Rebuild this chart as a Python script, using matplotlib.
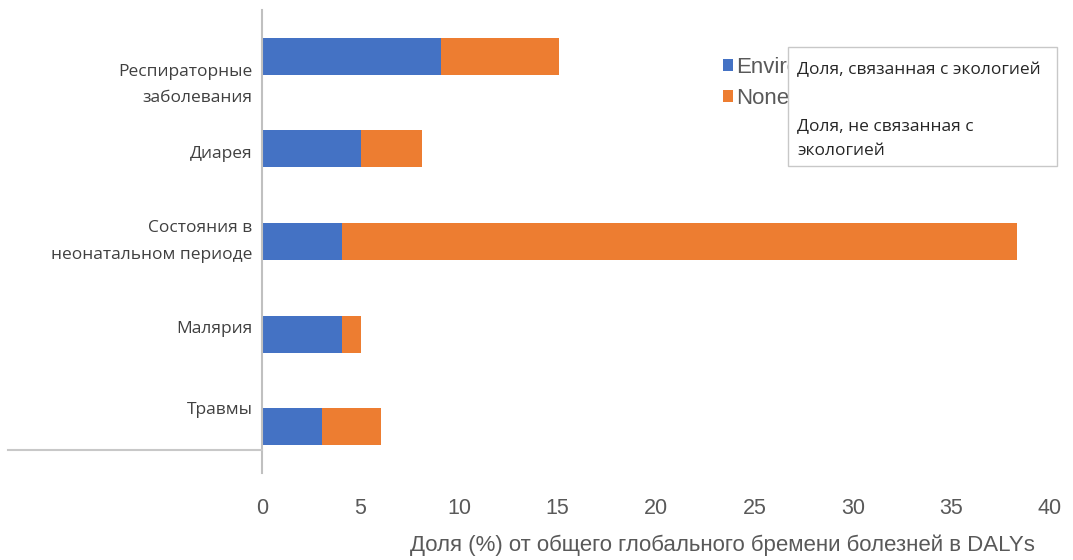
import matplotlib.pyplot as plt
from matplotlib.patches import Rectangle
from matplotlib.lines import Line2D
import matplotlib.transforms as mtransforms

categories = ["Респираторные\nзаболевания", "Диарея", "Состояния в\nнеонатальном периоде", "Малярия", "Травмы"]
environmental = [9.1, 5.0, 4.05, 4.05, 3.05]
nonenvironmental = [6.0, 3.1, 34.25, 1.0, 3.0]
label_shift = [0.31, 0.05, 0.0, -0.05, -0.18]
xticks = [0, 5, 10, 15, 20, 25, 30, 35, 40]

blue = "#4472C4"
orange = "#ED7D31"
grey = "#595959"
narrow = "Liberation Sans"

fig = plt.figure(figsize=(10.73, 5.6), dpi=100)
ax = fig.add_axes([262 / 1073, 1 - 473 / 560, 788 / 1073, 463 / 560])

pos = list(range(len(categories)))
b1 = ax.barh(pos, environmental, height=0.4, color=blue, label="Environmental")
b2 = ax.barh(pos, nonenvironmental, left=environmental, height=0.4, color=orange, label="Nonenvironmental")

ax.set_ylim(4.5, -0.5)
ax.set_xlim(0, 40)
ax.set_xticks(xticks)
ax.set_xticklabels([str(t) for t in xticks], fontsize=15.5, color=grey, family=narrow)
ax.tick_params(axis="x", length=0, pad=18)
ax.set_yticks([])
for s in ["top", "right", "bottom"]:
    ax.spines[s].set_visible(False)
ax.spines["left"].set_color("#c0c0c0")
ax.spines["left"].set_linewidth(1.5)

ax.set_xlabel("Доля (%) от общего глобального бремени болезней в DALYs",
              fontsize=16, color=grey, family=narrow)
ax.xaxis.set_label_coords((722 - 262) / 788, (473 - 545) / 463)
ax.xaxis.label.set_va("center")

trans = mtransforms.blended_transform_factory(ax.transAxes, ax.transData)
for i, name in enumerate(categories):
    ax.text(-0.012, i + label_shift[i], name, transform=trans, ha="right", va="center",
            fontsize=12.5, color="#404040", family="Open Sans", linespacing=1.85)

# edge of the pasted label patch
fig.add_artist(Line2D([8 / 1073, 262 / 1073], [1 - 450 / 560] * 2, color="#c8c8c8", lw=1.5))

fig.legend(handles=[b1, b2], loc="upper left", bbox_to_anchor=(703 / 1073, 1 - 37 / 560),
           frameon=False, handlelength=0.45, handleheight=0.45,
           handletextpad=0.15, labelspacing=0.45, prop={"family": narrow, "size": 16},
           labelcolor=grey)

# white box laid over the legend
box = Rectangle((788 / 1073, 1 - 166 / 560), 269 / 1073, 119 / 560, transform=fig.transFigure,
                facecolor="white", edgecolor="#c8c8c8", lw=1, zorder=10)
fig.add_artist(box)
fig.text(797 / 1073, 1 - 70 / 560, "Доля, связанная с экологией", fontsize=12.5,
         color="#262626", family="Open Sans", va="center", zorder=11)
fig.text(797 / 1073, 1 - 138.5 / 560, "Доля, не связанная с\nэкологией", fontsize=12.5,
         color="#262626", family="Open Sans", va="center", linespacing=1.8, zorder=11)

fig.savefig("out.png", dpi=100)
